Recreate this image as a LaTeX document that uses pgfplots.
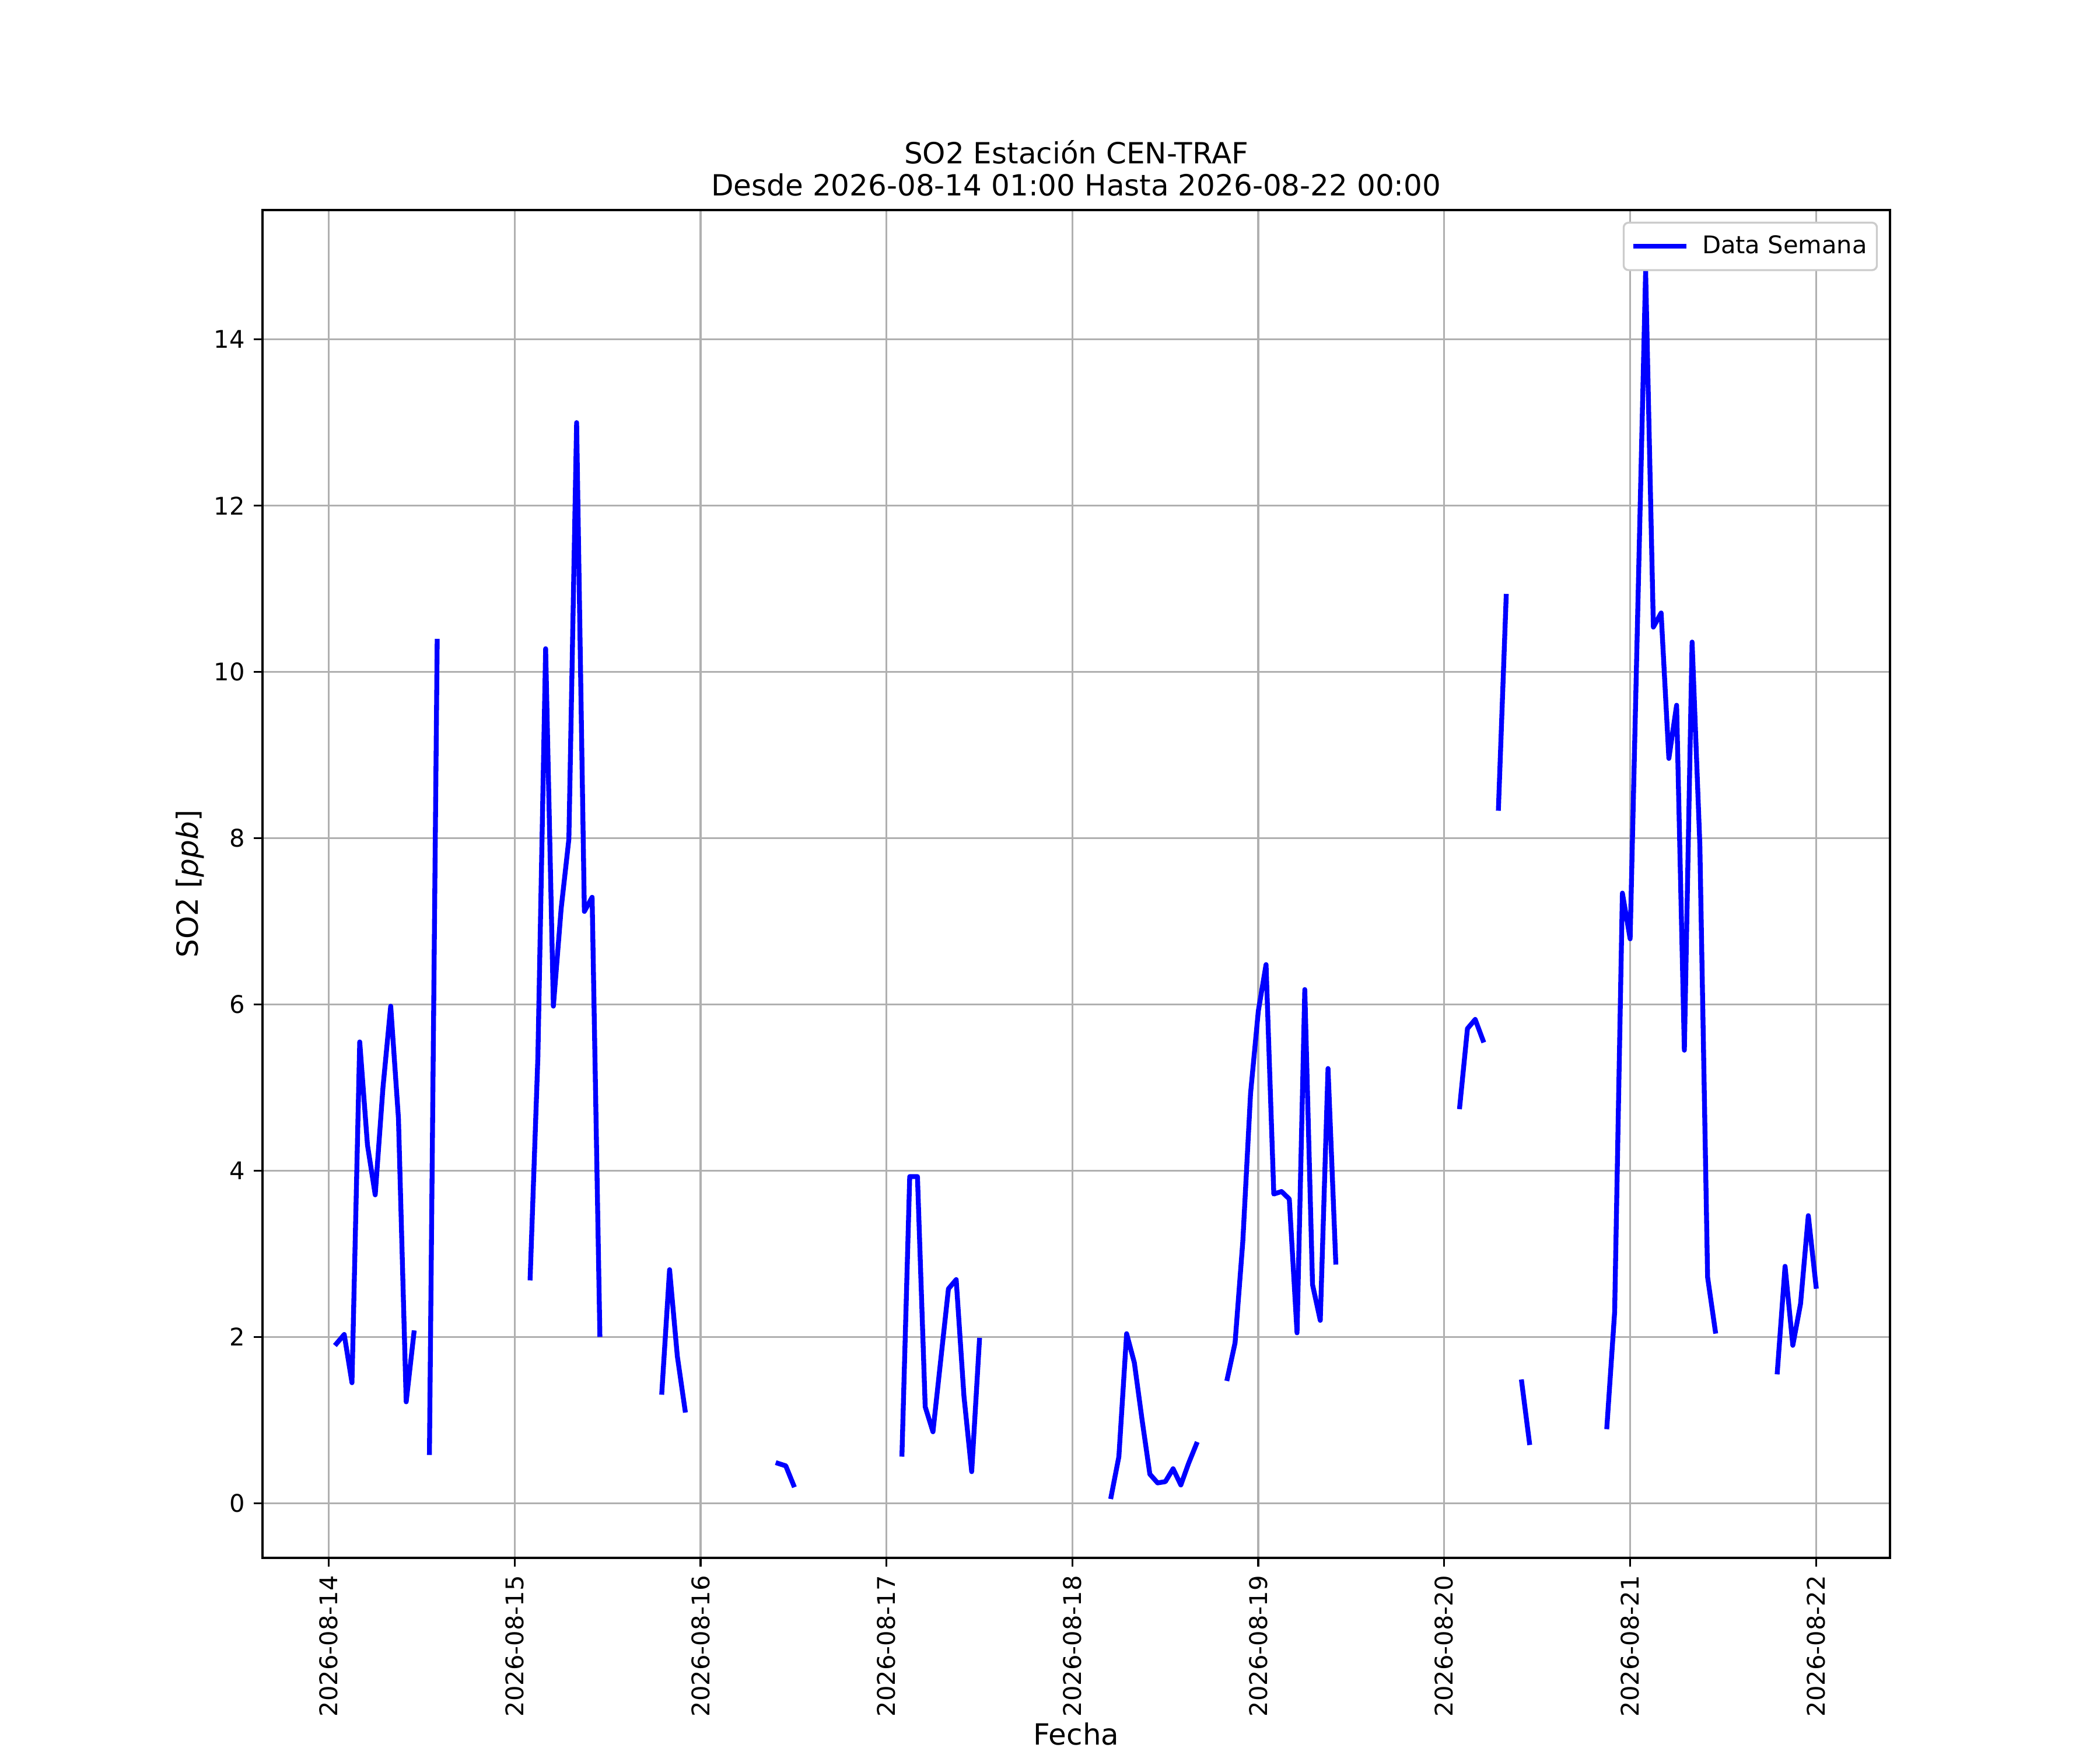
\documentclass[border=0pt]{standalone}
\usepackage{fontspec}
\setmainfont{DejaVu Sans}
\usepackage{pgfplots}
\pgfplotsset{compat=1.18}
\usepackage{pgfplotstable}

% hours since 2026-08-14 00:00, SO2 [ppb]; nan marks missing hours
\pgfplotstableread{
h v
1 1.92
2 2.03
3 1.45
4 5.55
5 4.31
6 3.71
7 5.00
8 5.98
9 4.63
10 1.22
11 2.05
12 nan
13 0.61
14 10.37
15 nan
26 2.71
27 5.37
28 10.28
29 5.98
30 7.15
31 7.99
32 13.00
33 7.12
34 7.29
35 2.03
36 nan
43 1.335
44 2.81
45 1.77
46 1.12
47 nan
58 0.48
59 0.45
60 0.22
61 nan
74 0.59
75 3.93
76 3.93
77 1.16
78 0.86
79 1.72
80 2.58
81 2.69
82 1.29
83 0.38
84 1.96
85 nan
101 0.08
102 0.56
103 2.04
104 1.69
105 1.00
106 0.35
107 0.245
108 0.26
109 0.415
110 0.22
111 0.48
112 0.71
113 nan
116 1.50
117 1.93
118 3.15
119 4.93
120 5.92
121 6.48
122 3.72
123 3.75
124 3.66
125 2.05
126 6.18
127 2.63
128 2.20
129 5.23
130 2.90
131 nan
146 4.77
147 5.71
148 5.82
149 5.57
150 nan
151 8.36
152 10.91
153 nan
154 1.46
155 0.73
156 nan
165 0.92
166 2.30
167 7.34
168 6.79
169 10.80
170 14.82
171 10.54
172 10.71
173 8.96
174 9.60
175 5.45
176 10.36
177 7.92
178 2.72
179 2.07
180 nan
187 1.58
188 2.85
189 1.90
190 2.40
191 3.46
192 2.61
}\sotable

\begin{document}
\begin{tikzpicture}
\path[use as bounding box] (0,0) rectangle (864pt,720pt);
\begin{axis}[
  at={(108pt,79.2pt)}, anchor=south west,
  scale only axis, width=669.6pt, height=554.4pt,
  xmin=-8.55, xmax=201.55, ymin=-0.657, ymax=15.557,
  xtick={0,24,48,72,96,120,144,168,192},
  xticklabels={2026-08-14,2026-08-15,2026-08-16,2026-08-17,2026-08-18,2026-08-19,2026-08-20,2026-08-21,2026-08-22},
  ytick={0,2,4,6,8,10,12,14},
  grid=major,
  major grid style={draw=black!31, line width=0.8pt},
  axis line style={line width=0.8pt},
  tick style={line width=0.8pt, black},
  major tick length=3.5pt,
  tick align=outside,
  tick pos=left,
  /pgf/number format/assume math mode=true,
  ticklabel style={font=\fontsize{10}{12}\selectfont, inner sep=0pt},
  xticklabel style={rotate=90, anchor=east},
  yticklabel style={anchor=east},
  xticklabel shift=3.5pt,
  yticklabel shift=3.5pt,
  title={SO2 Estación CEN-TRAF\\Desde 2026-08-14 01:00 Hasta 2026-08-22 00:00},
  title style={at={(0.5,1)}, anchor=south, yshift=-0.5pt, inner sep=0pt, align=center, font=\fontsize{12}{13.2}\selectfont},
  xlabel={Fecha},
  xlabel style={at={([yshift=-77pt]axis description cs:0.5,0)}, anchor=base, inner sep=0pt, font=\fontsize{12}{14}\selectfont},
  ylabel={SO2 [\textit{ppb}]},
  ylabel style={at={([xshift=-26.6pt]axis description cs:0,0.5)}, anchor=base, rotate=0, inner sep=0pt, font=\fontsize{12}{14}\selectfont},
  legend style={at={(1,1)}, anchor=north east, xshift=-5pt, yshift=-4.8pt,
    draw=black!20, line width=0.8pt, rounded corners=2pt, fill=white,
    inner xsep=4pt, inner ysep=5.3pt, column sep=6.5pt,
    nodes={inner sep=0pt, anchor=west},
    font=\fontsize{10}{12}\selectfont},
  legend image code/.code={\draw[#1] (0pt,0pt) -- (19.8pt,0pt);},
  unbounded coords=jump,
]
\addplot[blue, line width=2pt, line join=round, line cap=rect] table[x=h, y=v] {\sotable};
\addlegendentry{Data Semana}
\end{axis}
\end{tikzpicture}
\end{document}
